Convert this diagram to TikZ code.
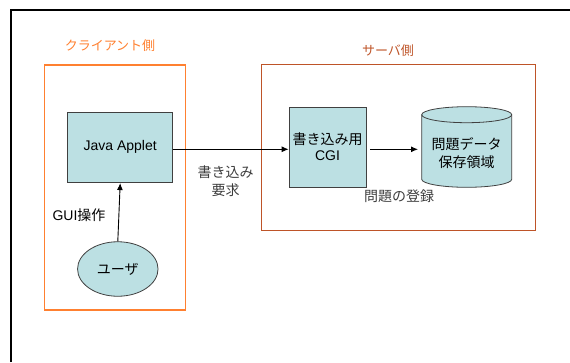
\documentclass[tikz,border=0pt]{standalone}
\usepackage{fontspec}
\setmainfont{Liberation Sans}
\newfontfamily\jp{Noto Sans CJK JP}
\usetikzlibrary{arrows.meta,shapes.geometric}
\definecolor{boxfill}{RGB}{188,224,227}
\definecolor{clientc}{RGB}{255,128,48}
\definecolor{serverc}{RGB}{190,84,40}
\definecolor{txtgray}{RGB}{60,60,60}
\tikzset{
  proc/.style={draw=black!75, line width=0.8pt, fill=boxfill, inner sep=0pt, align=center},
  lbl/.style={text=txtgray, align=center, inner sep=0pt},
  arr/.style={-{Latex[length=7pt,width=6pt]}, line width=0.9pt, black},
  txt/.style={font=\fontsize{14}{17}\selectfont}
}
\begin{document}
\begin{tikzpicture}[x=1pt,y=-1pt, txt]
\useasboundingbox (0,0) rectangle (570,362);
% outer frame
\draw[black, line width=1.3pt] (11,362) -- (11,10) -- (570,10);
% group frames
\node[draw=clientc, line width=1.3pt, minimum width=141pt, minimum height=245pt, inner sep=0pt] (client) at (115.3,187.5) {};
\node[draw=serverc, line width=1.3pt, minimum width=274pt, minimum height=166pt, inner sep=0pt] (server) at (398.7,147.5) {};
\node[text=clientc, inner sep=0pt, font=\jp\fontsize{13}{15}\selectfont] (ctitle) at (110,45.5) {クライアント側};
\node[text=serverc, inner sep=0pt, font=\jp\fontsize{13}{15}\selectfont] (stitle) at (388,50.5) {サーバ側};
% nodes
\node[proc, minimum width=105pt, minimum height=70.7pt] (applet) at (120.2,147.3) {Java Applet};
\node[proc, ellipse, minimum width=80.5pt, minimum height=54.5pt] (user) at (117.8,269) {\jp ユーザ};
\node[proc, minimum width=77pt, minimum height=80pt] (cgi) at (327.5,147) {{\jp 書き込み用}\\[-1pt]CGI};
% cylinder
\fill[boxfill] (421.7,114.7) -- (421.7,179.3) arc[start angle=180, end angle=0, x radius=45, y radius=8] -- (511.7,114.7) arc[start angle=360, end angle=180, x radius=45, y radius=8] -- cycle;
\draw[black!75, line width=0.8pt] (421.7,114.7) -- (421.7,179.3) arc[start angle=180, end angle=0, x radius=45, y radius=8] -- (511.7,114.7);
\draw[black!75, line width=0.8pt] (466.7,114.7) ellipse[x radius=45, y radius=8];
\node[inner sep=0pt, align=center, minimum width=90pt, minimum height=80pt, font=\jp\fontsize{14}{18}\selectfont] (db) at (466.7,153) {問題データ\\保存領域};
\coordinate (dbw) at (418,149.3);
\coordinate (cgie) at (370,149.3);
% connectors
\draw[arr] (user.north) -- (applet.south);
\draw[arr] (applet.east |- 0,149.3) -- (cgi.west |- 0,149.3);
\draw[arr] (cgie) -- (dbw);
% labels
\node[inner sep=0pt] (gui) at (79,215) {GUI{\jp 操作}};
\node[lbl, font=\jp\fontsize{14}{18}\selectfont] (req) at (225.5,181) {書き込み\\要求};
\node[lbl, font=\jp\fontsize{14}{17}\selectfont] (reg) at (399,196) {問題の登録};
\end{tikzpicture}
\end{document}
